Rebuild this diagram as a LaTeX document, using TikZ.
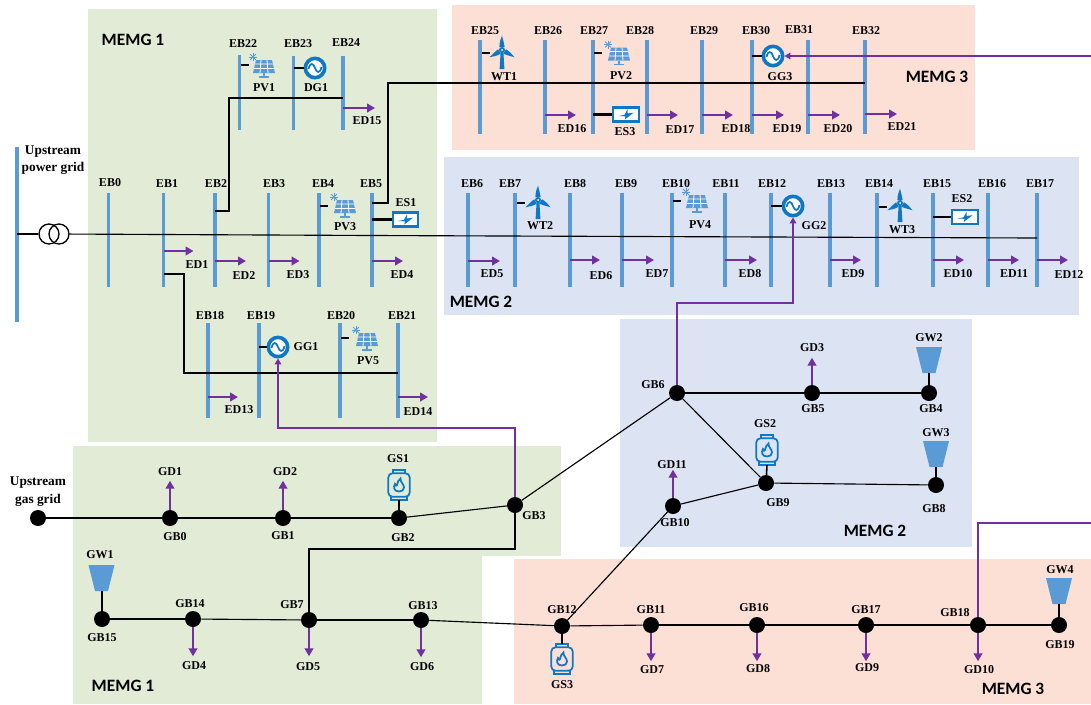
\documentclass[tikz,border=0pt]{standalone}
\usepackage{fontspec}
\setmainfont{Liberation Serif}
\newfontfamily\memgfont{Carlito}
\usetikzlibrary{arrows.meta}
\definecolor{grn}{HTML}{E2EBD5}
\definecolor{pch}{HTML}{FDE0D5}
\definecolor{blu}{HTML}{DCE4F4}
\definecolor{busc}{HTML}{5B9BD5}
\definecolor{icn}{HTML}{0F77C4}
\definecolor{pur}{HTML}{7030A0}
\tikzset{
  x=0.75pt,y=-0.75pt,
  lab/.style={font=\fontsize{9}{10}\selectfont\bfseries,inner sep=0pt,align=center},
  biglab/.style={font=\fontsize{10}{12}\selectfont\bfseries,inner sep=0pt,align=center},
  memg/.style={font=\fontsize{13}{15}\selectfont\bfseries\memgfont,inner sep=0pt},
  busbar/.style={fill=busc,draw=none,inner sep=0pt,minimum width=2.3pt},
  wire/.style={draw=black,line width=0.85pt},
  stub/.style={draw=black,line width=1.6pt},
  load/.style={draw=pur,line width=1.5pt,-{Triangle[length=6pt,width=6.5pt]}},
  gasfeed/.style={draw=pur,line width=1.2pt,-{Triangle[length=4.5pt,width=5pt]}},
  gasnode/.style={circle,fill=black,draw=none,inner sep=0pt,minimum size=12pt},
  xfmr/.style={circle,draw=black,line width=1pt,inner sep=0pt,minimum size=15pt},
  ggen/.style={circle,draw=icn,fill=white,line width=2.7pt,inner sep=0pt,minimum size=14.5pt},
  esbox/.style={rectangle,draw=icn,fill=white,line width=1.7pt,inner sep=0pt,minimum width=19pt,minimum height=10.5pt},
  gsbody/.style={rectangle,rounded corners=3pt,draw=icn,line width=1.3pt,inner sep=0pt,minimum width=16pt,minimum height=17.5pt},
  pics/pvicon/.style={code={
    \fill[busc] (-8,-7) -- (8,-7) -- (11,6) -- (-11,6) -- cycle;
    \draw[white,line width=0.6pt] (-9,-3) -- (9,-3) (-10,1.5) -- (10,1.5)
      (-3,-7) -- (-4,6) (3,-7) -- (4,6);
    \draw[busc,line width=1pt] (0,6) -- (0,10) (-5,10) -- (5,10);
    \foreach \r in {0,45,...,315}{\draw[busc,line width=0.6pt] (-11,-10) -- ++(\r:4);}
  }},
  pics/wticon/.style={code={
    \foreach \r in {0,120,240}{
      \fill[icn,rotate=\r] (-2.6,-3) .. controls (-2.6,-8) and (-1.2,-11) .. (0,-14.5) .. controls (1,-10) and (2.2,-7) .. (2.6,-3) -- cycle;}
    \fill[icn] (-1.4,2) -- (1.4,2) -- (2.4,19) -- (-2.4,19) -- cycle;
    \fill[icn] (0,0) circle (3);
    \fill[white] (0,0) circle (1);
  }},
  pics/gsicon/.style={code={
    \draw[icn,line width=1.2pt] (-6,-15) rectangle (6,-11.5);
    \draw[icn,line width=1.2pt] (-8,11.5) rectangle (8,15);
    \draw[icn,line width=1.3pt] (0,6.5) .. controls (-5,6.5) and (-6,2) .. (-4,-1) .. controls (-3,1) and (-2.5,1) .. (-2,0) .. controls (-2,-3) and (0,-5) .. (1.5,-6.5) .. controls (1,-3) and (5,-1) .. (5,2.5) .. controls (5,5) and (3,6.5) .. (0,6.5) -- cycle;
  }},
  pics/gwicon/.style={code={
    \fill[busc] (-13,-13) -- (13,-13) -- (6.5,13) -- (-6.5,13) -- cycle;
  }},
  pics/sineicon/.style={code={
    \draw[icn,line width=1.3pt] (-6.5,1) .. controls (-5,-6) and (-1.5,-5) .. (0,0) .. controls (1.5,5) and (5,6) .. (6.5,-1);
  }},
  pics/bolticon/.style={code={
    \fill[icn] (-7.5,1.5) -- (-1.5,0.3) -- (1.5,-5) -- (1.5,-1) -- (7.5,-1.8) -- (-1.2,5) -- (-0.5,1.8) -- cycle;
  }}
}
\begin{document}
\begin{tikzpicture}
\useasboundingbox (0,0) rectangle (1091,704);
% areas
\fill[grn] (88,9) rectangle (437,442);
\fill[pch] (452,5) rectangle (975,150);
\fill[blu] (444,157) rectangle (1079,315);
\fill[grn] (73,446) rectangle (561,556);
\fill[grn] (73,556) rectangle (482,704);
\fill[blu] (620,319) rectangle (972,547);
\fill[pch] (514,559) rectangle (1091,704);
% area labels
\node[memg] (mA) at (133,40) {MEMG 1};
\node[memg] (mB) at (937,77) {MEMG 3};
\node[memg] (mC) at (481,302) {MEMG 2};
\node[memg] (mD) at (123,686) {MEMG 1};
\node[memg] (mE) at (875,531) {MEMG 2};
\node[memg] (mF) at (1013,689) {MEMG 3};
% bus bars: name/x/top/bottom/label x/label y
\node[busbar,minimum height=131.25pt] (GRID) at (17,234.5) {};
\foreach \n/\x/\yt/\yb/\lx/\ly in {
  EB0/108.5/193/287/110/183, EB1/163.5/193/287/167/184, EB2/215/193/287/216/184,
  EB3/268.5/193/287/274/184, EB4/319/193/287/323/184, EB5/372/193/287/371/184,
  EB6/468/193/287/472/184, EB7/515/193/287/510/184, EB8/570/193/287/575/184,
  EB9/622/193/287/626/184, EB10/672/193/287/676/184, EB11/725/193/287/726/184,
  EB12/771/193/287/772/184, EB13/830/193/287/831/184, EB14/877/193/287/879/184,
  EB15/933/193/287/937/184, EB16/988/193/287/992/184, EB17/1037/193/287/1040/184,
  EB18/208/323/418/210/316, EB19/259/323/418/261/316, EB20/340/323/418/341/316, EB21/398/323/418/402/316,
  EB22/239.5/55/130/243/44, EB23/293.5/56/130/298/44, EB24/343/56/130/346/43,
  EB25/480/40/134/485/31, EB26/545/40/134/548/31, EB27/593/40/134/594/31, EB28/647/40/134/640/31,
  EB29/702/40/134/704/31, EB30/752/40/134/756/31, EB31/808/40/134/799/30, EB32/865/40/134/866/31}{
  \node[busbar,minimum height={(\yb-\yt)*0.75pt}] (\n) at (\x,{(\yt+\yb)/2}) {};
  \node[lab] (lab\n) at (\lx,\ly) {\n};
}
\node[biglab] (labgrid) at (53,160) {Upstream\\[1pt]power grid};
% transformer
\node[xfmr] (T1) at (49,234) {};
\node[xfmr] (T2) at (59,234) {};
% electric lines
\draw[wire] (GRID |- T1) -- (T1);
\draw[wire] (T2) -- (EB5 |- 0,235.5) -- (EB17 |- 0,238);
\draw[wire] (EB2 |- 0,211) -- (229,211) -- (229,98) -- (EB24 |- 0,98);
\draw[wire] (EB1 |- 0,274) -- (184,274) -- (184,373) -- (EB21 |- 0,373);
\draw[wire] (EB5 |- 0,203) -- (388,203) -- (388,83) -- (EB32 |- 0,83);
% electric loads: bus/y/length/text/label x/label y
\foreach \bb/\yy/\len/\txt/\lx/\ly in {
  EB1/251/30/ED1/197/265, EB2/261/31/ED2/244/276, EB3/261/31/ED3/298/275, EB5/261/31/ED4/402/275,
  EB24/108/32/ED15/367/121,
  EB6/261/32/ED5/492/274, EB8/260/30/ED6/601/276, EB9/260/32/ED7/657/274, EB11/260/32/ED8/750/274,
  EB13/260/31/ED9/853/274, EB15/260/31/ED10/958/274, EB16/260/31/ED11/1014/274, EB17/260/31/ED12/1069/275,
  EB18/397/30/ED13/239/410, EB21/397/30/ED14/418/412,
  EB26/115/31/ED16/572/129, EB28/115/31/ED17/680/130, EB29/115/31/ED18/736/129, EB30/115/32/ED19/787/129,
  EB31/115/32/ED20/838/129, EB32/114/32/ED21/902/127}{
  \draw[load] (\bb |- 0,\yy) -- ++(\len,0);
  \node[lab] (lab\txt) at (\lx,\ly) {\txt};
}
% generators
\foreach \n/\x/\y/\lx/\ly/\bb in {
  DG1/315/68/316/88/EB23, GG1/278/347/306/347/EB19, GG2/793/206/814/226/EB12, GG3/773/56/780/77/EB30}{
  \node[ggen] (\n) at (\x,\y) {};
  \pic at (\x,\y) {sineicon};
  \node[lab] (lab\n) at (\lx,\ly) {\n};
  \draw[stub] (\bb |- \n) -- (\n);
}
% storage
\foreach \n/\x/\y/\lx/\ly/\bb in {
  ES1/405.5/219.5/406/203/EB5, ES2/965/217/962/199/EB15, ES3/626/114.5/625/132/EB27}{
  \node[esbox] (\n) at (\x,\y) {};
  \pic at (\x,\y) {bolticon};
  \node[lab] (lab\n) at (\lx,\ly) {\n};
  \draw[stub] (\bb |- \n) -- (\n);
}
% PV units
\foreach \n/\x/\y/\lx/\ly/\bb/\sy in {
  PV1/264/67/264/88/EB22/65, PV2/619/54.5/621/76/EB27/53, PV3/345/207/345/227/EB4/206,
  PV4/697/202/700/225/EB10/201, PV5/367/340/368/361/EB20/338}{
  \pic (\n) at (\x,\y) {pvicon};
  \node[lab] (lab\n) at (\lx,\ly) {\n};
  \draw[stub] (\bb |- 0,\sy) ++(1,0) -- ++(8,0);
}
% wind units
\foreach \n/\x/\y/\lx/\ly/\bb/\sy in {
  WT1/502/50/504/77/EB25/53, WT2/538/200/540/226/EB7/203, WT3/900/203/902/230/EB14/207}{
  \pic (\n) at (\x,\y) {wticon};
  \node[lab] (lab\n) at (\lx,\ly) {\n};
  \draw[stub] (\bb |- 0,\sy) ++(2,0) -- ++(8,0);
}
% gas nodes
\foreach \n/\x/\y/\lx/\ly in {
  GB0/170/518/175/537, GB1/283/518/283/536, GB2/399/518/403/538, GB3/515/505/534/516,
  GB4/929/393/931/409, GB5/812/393/813/409, GB6/677/393/653/385, GB7/309/620/292/605,
  GB8/936/485/934/509, GB9/766/483/778/503, GB10/673/506/675/523, GB11/651/625/651/610,
  GB12/562/626/562/610, GB13/421/620/423/606, GB14/193/619/190/604, GB15/102/619/102/638,
  GB16/757/625/754/608, GB17/866/625/866/610, GB18/978/625/955/613, GB19/1059/625/1060/645}{
  \node[gasnode] (\n) at (\x,\y) {};
  \node[lab] (lab\n) at (\lx,\ly) {\n};
}
\node[gasnode] (UG) at (38,518) {};
\node[biglab] (labUG) at (38,491.5) {Upstream\\[1pt]gas grid};
% gas pipes
\draw[wire] (UG) -- (GB0);
\draw[wire] (GB0) -- (GB1);
\draw[wire] (GB1) -- (GB2);
\draw[wire] (GB2) -- (GB3);
\draw[wire] (GB3) -- (GB3 |- 0,549) -- (GB7 |- 0,549) -- (GB7);
\draw[wire] (GB3) -- (GB6);
\draw[wire] (GB6) -- (GB5);
\draw[wire] (GB5) -- (GB4);
\draw[wire] (GB6) -- (GB9);
\draw[wire] (GB9) -- (GB8);
\draw[wire] (GB9) -- (GB10);
\draw[wire] (GB10) -- (GB12);
\draw[wire] (GB15) -- (GB14);
\draw[wire] (GB14) -- (GB7);
\draw[wire] (GB7) -- (GB13);
\draw[wire] (GB13) -- (GB12);
\draw[wire] (GB12) -- (GB11);
\draw[wire] (GB11) -- (GB16);
\draw[wire] (GB16) -- (GB17);
\draw[wire] (GB17) -- (GB18);
\draw[wire] (GB18) -- (GB19);
% gas loads: node/anchor/length/text/label x/label y
\foreach \bb/\aa/\len/\txt/\lx/\ly in {
  GB0/north/-29/GD1/170/472, GB1/north/-29/GD2/285/472, GB5/north/-27/GD3/812/348, GB10/north/-28/GD11/672/465,
  GB14/south/29/GD4/194/666, GB7/south/28/GD5/308/667, GB13/south/29/GD6/422/667,
  GB11/south/28/GD7/652/670, GB16/south/28/GD8/758/669, GB17/south/28/GD9/867/668, GB18/south/28/GD10/979/670}{
  \draw[load] (\bb.\aa) -- ++(0,\len);
  \node[lab] (lab\txt) at (\lx,\ly) {\txt};
}
% gas wells
\foreach \n/\x/\y/\lx/\ly/\bb in {
  GW1/101.5/578/100/555/GB15, GW2/929/360/929/338/GB4, GW3/936/454/936/433/GB8, GW4/1059/591/1060/570/GB19}{
  \pic (\n) at (\x,\y) {gwicon};
  \node[lab] (lab\n) at (\lx,\ly) {\n};
  \draw[wire,line width=1.2pt] (\bb) -- (\bb |- 0,{\y+13});
}
% gas storage
\foreach \n/\x/\y/\lx/\ly/\bb/\ss in {
  GS1/399/485/398/459/GB2/1, GS2/767/450/765/424/GB9/1, GS3/562/659/562/685/GB12/-1}{
  \node[gsbody] (\n) at (\x,\y) {};
  \pic at (\x,\y) {gsicon};
  \node[lab] (lab\n) at (\lx,\ly) {\n};
  \draw[wire,line width=1.2pt] (\bb) -- (\x,{\y+\ss*15});
}
% gas to power feeds
\draw[gasfeed] (GB3) -- (GB3 |- 0,428) -- (GG1 |- 0,428) -- (GG1);
\draw[gasfeed] (GB6) -- (GB6 |- 0,303) -- (GG2 |- 0,303) -- (GG2);
\coordinate (feedA) at (1091,56);
\draw[gasfeed] (feedA) -- (GG3);
\coordinate (feedB) at (1091,523);
\draw[draw=pur,line width=1.2pt] (GB18) -- (GB18 |- feedB) -- (feedB);
\end{tikzpicture}
\end{document}
